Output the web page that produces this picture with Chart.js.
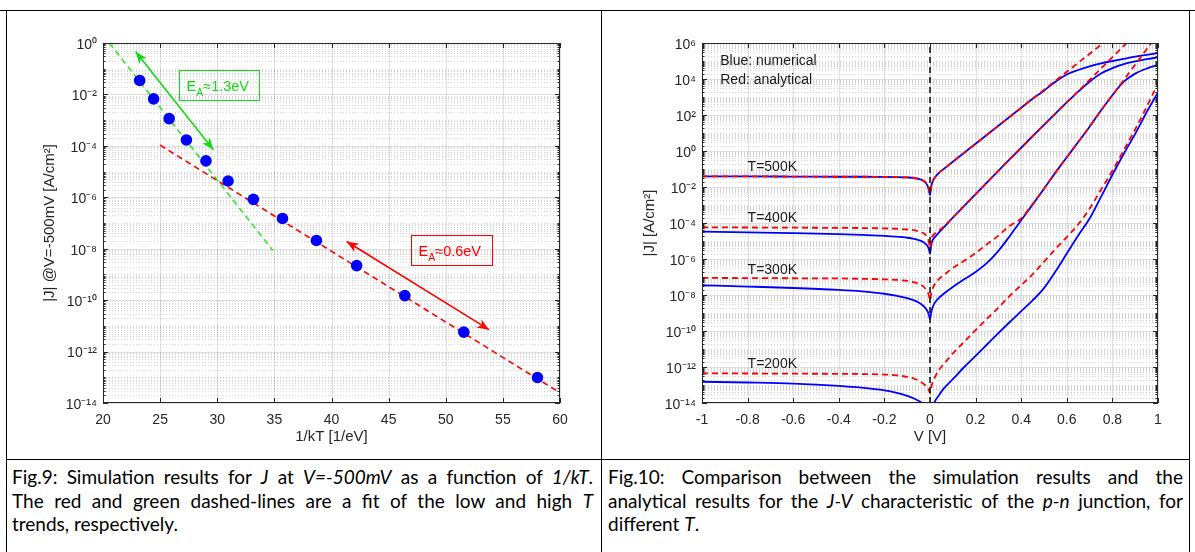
<!DOCTYPE html>
<html>
<head>
<meta charset="utf-8">
<script src="https://cdn.jsdelivr.net/npm/chart.js@4.4.1/dist/chart.umd.min.js"></script>
<style>
  html, body { margin: 0; padding: 0; background: #fff; }
  #page { position: relative; width: 1195px; height: 552px; overflow: hidden; background: #fff; }
  #fig9 { position: absolute; left: 0; top: 0; }
  #fig10 { position: absolute; left: 600px; top: 0; }
  .rule { position: absolute; background: #000; z-index: 5; }
  .cap { position: absolute; top: 465px; font-family: Lato, "Liberation Sans", sans-serif; font-size: 19px; line-height: 23.5px; color: #000; }
  .cap div { text-align: justify; text-align-last: justify; white-space: nowrap; }
  .cap div.last { text-align: left; text-align-last: left; }
</style>
</head>
<body>
<div id="page">
  <canvas id="fig9" width="600" height="459"></canvas>
  <canvas id="fig10" width="595" height="459"></canvas>

  <div class="rule" style="left:0; top:10px; width:1195px; height:1px;"></div>
  <div class="rule" style="left:6px; top:10px; width:1px; height:542px;"></div>
  <div class="rule" style="left:601px; top:10px; width:1px; height:542px;"></div>
  <div class="rule" style="left:1189px; top:10px; width:1px; height:542px;"></div>
  <div class="rule" style="left:6px; top:459px; width:1184px; height:1px;"></div>

  <div class="cap" style="left:12px; width:581px;">
    <div>Fig.9: Simulation results for <i>J</i> at <i>V=-500mV</i> as a function of <i>1/kT</i>.</div>
    <div>The red and green dashed-lines are a fit of the low and high <i>T</i></div>
    <div class="last">trends, respectively.</div>
  </div>
  <div class="cap" style="left:608px; width:575px;">
    <div>Fig.10: Comparison between the simulation results and the</div>
    <div>analytical results for the <i>J-V</i> characteristic of the <i>p-n</i> junction, for</div>
    <div class="last">different <i>T</i>.</div>
  </div>
</div>

<script>
// ---------- Fig. 9 : |J| at V = -500 mV versus 1/kT ----------
const invKT = [23.21, 24.43, 25.79, 27.30, 29.01, 30.95, 33.16, 35.71, 38.68, 42.20, 46.42, 51.58, 58.03];
const jAtMinus500mV = [3.5e-2, 6.7e-3, 1.15e-3, 1.7e-4, 2.6e-5, 4.3e-6, 8.3e-7, 1.5e-7, 2.1e-8, 2.2e-9, 1.5e-10, 5.7e-12, 9.8e-14];

// dashed Arrhenius fits (end points)
const lowTFitX = [24.99, 59.82];
const lowTFitJ = [1.07e-4, 2.8e-14];
const highTFitX = [20.55, 34.87];
const highTFitJ = [1.0, 8.5e-9];

// activation-energy annotations
const highTArrowX = [22.86, 29.66];
const highTArrowJ = [0.457, 7.1e-5];
const lowTArrowX = [41.33, 53.79];
const lowTArrowJ = [1.9e-8, 7.1e-12];
const highTBoxX = [26.68, 33.66];
const highTBoxJ = [8.6e-2, 5.85e-3];
const lowTBoxX = [47.0, 54.1];
const lowTBoxJ = [3.55e-8, 2.4e-9];
const activationLabels = ['\u22481.3eV', '\u22480.6eV'];

const fig9XTicks = [20, 25, 30, 35, 40, 45, 50, 55, 60];
const fig9YExps = [-14, -12, -10, -8, -6, -4, -2, 0];

// ---------- Fig. 10 : J-V characteristics ----------
const biasV = [-1, -0.8, -0.6, -0.4, -0.3, -0.2, -0.15, -0.1, -0.07, -0.05, -0.03, -0.02, -0.01, -0.005, 0,
               0.005, 0.01, 0.02, 0.04, 0.06, 0.1, 0.15, 0.2, 0.25, 0.3, 0.35, 0.4, 0.45, 0.5, 0.55, 0.6,
               0.65, 0.7, 0.75, 0.8, 0.85, 0.9, 0.95, 1];

// log10 of |J| [A/cm^2]; "num" = numerical, "ana" = analytical
const num500 = [-1.41, -1.41, -1.42, -1.43, -1.43, -1.44, -1.45, -1.47, -1.50, -1.55, -1.65, -1.75, -1.95, -2.15, -2.45,
                -2.00, -1.75, -1.50, -1.20, -1.00, -0.60, -0.10, 0.40, 0.90, 1.40, 1.90, 2.40, 2.90, 3.35, 3.85, 4.25,
                4.50, 4.70, 4.87, 5.00, 5.12, 5.24, 5.34, 5.44];
const ana500 = [-1.41, -1.41, -1.42, -1.43, -1.43, -1.44, -1.45, -1.47, -1.50, -1.55, -1.64, -1.73, -1.92, -2.10, -2.38,
                -1.97, -1.73, -1.49, -1.20, -1.00, -0.60, -0.10, 0.40, 0.90, 1.40, 1.90, 2.40, 2.90, 3.40, 3.90, 4.40,
                4.90, 5.40, 5.90, 6.40, null, null, null, null];
const num400 = [-4.48, -4.52, -4.56, -4.62, -4.66, -4.72, -4.76, -4.82, -4.88, -4.95, -5.05, -5.15, -5.30, -5.45, -5.72,
                -5.25, -5.00, -4.80, -4.52, -4.25, -3.70, -3.05, -2.40, -1.75, -1.10, -0.45, 0.18, 0.82, 1.45, 2.08, 2.70,
                3.30, 3.85, 4.30, 4.60, 4.83, 4.98, 5.10, 5.20];
const ana400 = [-4.24, -4.25, -4.26, -4.27, -4.28, -4.30, -4.32, -4.36, -4.40, -4.46, -4.56, -4.65, -4.85, -5.05, -5.40,
                -4.95, -4.75, -4.60, -4.42, -4.20, -3.70, -3.05, -2.40, -1.75, -1.10, -0.45, 0.18, 0.82, 1.45, 2.08, 2.70,
                3.32, 3.95, 4.58, 5.21, 5.84, 6.47, null, null];
const num300 = [-7.46, -7.53, -7.61, -7.72, -7.80, -7.93, -8.03, -8.18, -8.30, -8.42, -8.60, -8.73, -8.92, -9.10, -9.35,
                -9.00, -8.75, -8.45, -8.15, -7.93, -7.55, -7.13, -6.72, -6.22, -5.55, -4.72, -3.85, -2.98, -2.10, -1.20, -0.35,
                0.50, 1.35, 2.25, 3.10, 3.85, 4.30, 4.58, 4.78];
const ana300 = [-7.05, -7.06, -7.07, -7.08, -7.10, -7.13, -7.16, -7.22, -7.30, -7.38, -7.52, -7.65, -7.85, -8.02, -8.30,
                -7.95, -7.70, -7.42, -7.10, -6.90, -6.50, -6.10, -5.67, -5.18, -4.70, -4.15, -3.75, -2.95, -2.10, -1.20, -0.35,
                0.50, 1.35, 2.25, 3.10, 3.95, 4.80, 5.65, 6.50];
const num200 = [-12.82, -12.86, -12.92, -13.05, -13.15, -13.30, -13.42, -13.60, -13.75, -13.88, -14.05, -14.20, -14.50, null, null,
                null, -14.35, -13.95, -13.55, -13.20, -12.68, -12.00, -11.38, -10.75, -10.12, -9.50, -8.90, -8.30, -7.62, -6.70, -5.70,
                -4.70, -3.75, -2.55, -1.32, -0.15, 0.95, 2.15, 3.25];
const ana200 = [-12.35, -12.36, -12.37, -12.38, -12.39, -12.42, -12.46, -12.55, -12.65, -12.75, -12.92, -13.02, -13.18, -13.28, -13.45,
                -13.15, -12.90, -12.60, -12.15, -11.85, -11.25, -10.60, -9.95, -9.32, -8.70, -8.05, -7.45, -6.85, -6.15, -5.45, -4.78,
                -4.08, -3.20, -2.15, -1.10, 0.05, 1.20, 2.45, 3.75];

const tempLabels = ['T=500K', 'T=400K', 'T=300K', 'T=200K'];
const tempLabelV = -0.80;
const tempLabelJ = [0.135, 1.95e-4, 2.4e-7, 1.5e-12];
const keyLines = ['Blue: numerical', 'Red: analytical'];
const keyV = -0.92;
const keyJ = [9.8e4, 9.1e3];

const fig10XTicks = [-1, -0.8, -0.6, -0.4, -0.2, 0, 0.2, 0.4, 0.6, 0.8, 1];
const fig10XLabels = ['-1', '-0.8', '-0.6', '-0.4', '-0.2', '0', '0.2', '0.4', '0.6', '0.8', '1'];
const fig10YExps = [-14, -12, -10, -8, -6, -4, -2, 0, 2, 4, 6];

// ---------- shared styling ----------
const FONT = '"Liberation Sans", Arial, Helvetica, sans-serif';
const AXIS = '#262626';
const BLUE = '#0000ff';
const RED = '#ff0000';
const GREEN = '#14d814';

Chart.defaults.font.family = FONT;
Chart.defaults.color = AXIS;

const SUP = {'-': '\u207b', '0': '\u2070', '1': '\u00b9', '2': '\u00b2', '3': '\u00b3', '4': '\u2074',
             '5': '\u2075', '6': '\u2076', '7': '\u2077', '8': '\u2078', '9': '\u2079'};
const powerLabel = e => '10' + String(e).split('').map(c => SUP[c]).join('');

// Boxed axes with inward ticks, solid major grid and dotted minor grid (log y axis)
function boxedAxes(cfg) {
  return {
    id: 'boxedAxes',
    beforeDatasetsDraw(chart) {
      const {ctx, chartArea: a, scales: {x: xs, y: ys}} = chart;
      ctx.save();
      ctx.lineWidth = 1;
      ctx.setLineDash([1, 2]);
      ctx.strokeStyle = 'rgba(38,38,38,0.2)';
      ctx.beginPath();
      for (let e = cfg.yMinExp; e < cfg.yMaxExp; e++) {
        for (let m = 1; m <= 9; m++) {
          if (m === 1 && cfg.yMajor.includes(e)) continue;
          const p = Math.round(ys.getPixelForValue(m * Math.pow(10, e))) + 0.5;
          ctx.moveTo(a.left, p); ctx.lineTo(a.right, p);
        }
      }
      ctx.stroke();
      ctx.setLineDash([]);
      ctx.strokeStyle = 'rgba(38,38,38,0.15)';
      ctx.beginPath();
      for (const e of cfg.yMajor) {
        const p = Math.round(ys.getPixelForValue(Math.pow(10, e))) + 0.5;
        ctx.moveTo(a.left, p); ctx.lineTo(a.right, p);
      }
      for (const v of cfg.xMajor) {
        const p = Math.round(xs.getPixelForValue(v)) + 0.5;
        ctx.moveTo(p, a.top); ctx.lineTo(p, a.bottom);
      }
      ctx.stroke();
      ctx.restore();
    },
    afterDatasetsDraw(chart) {
      const {ctx, chartArea: a, scales: {x: xs, y: ys}} = chart;
      ctx.save();
      ctx.lineWidth = 1;
      ctx.strokeStyle = AXIS;
      ctx.beginPath();
      for (const v of cfg.xMajor) {
        const p = Math.round(xs.getPixelForValue(v)) + 0.5;
        ctx.moveTo(p, a.bottom); ctx.lineTo(p, a.bottom - 5);
        ctx.moveTo(p, a.top); ctx.lineTo(p, a.top + 5);
      }
      for (let e = cfg.yMinExp; e <= cfg.yMaxExp; e++) {
        for (let m = 1; m <= 9; m++) {
          if (e === cfg.yMaxExp && m > 1) break;
          const p = Math.round(ys.getPixelForValue(m * Math.pow(10, e))) + 0.5;
          const len = (m === 1 && cfg.yMajor.includes(e)) ? 5 : 2.5;
          ctx.moveTo(a.left, p); ctx.lineTo(a.left + len, p);
          ctx.moveTo(a.right, p); ctx.lineTo(a.right - len, p);
        }
      }
      ctx.stroke();
      ctx.strokeRect(a.left + 0.5, a.top + 0.5, a.right - a.left - 1, a.bottom - a.top - 1);
      ctx.restore();
    }
  };
}

function doubleArrow(ctx, p0, p1, color) {
  ctx.save();
  ctx.strokeStyle = color;
  ctx.fillStyle = color;
  ctx.lineWidth = 1.6;
  ctx.beginPath();
  ctx.moveTo(p0[0], p0[1]);
  ctx.lineTo(p1[0], p1[1]);
  ctx.stroke();
  const head = (tip, from) => {
    const ang = Math.atan2(tip[1] - from[1], tip[0] - from[0]);
    ctx.save();
    ctx.translate(tip[0], tip[1]);
    ctx.rotate(ang);
    ctx.beginPath();
    ctx.moveTo(0, 0);
    ctx.lineTo(-12, -4.8);
    ctx.lineTo(-8.5, 0);
    ctx.lineTo(-12, 4.8);
    ctx.closePath();
    ctx.fill();
    ctx.restore();
  };
  head(p0, p1);
  head(p1, p0);
  ctx.restore();
}

function energyBox(ctx, c0, c1, text, color) {
  const x0 = Math.round(Math.min(c0[0], c1[0])) + 0.5;
  const y0 = Math.round(Math.min(c0[1], c1[1])) + 0.5;
  const w = Math.round(Math.abs(c1[0] - c0[0]));
  const h = Math.round(Math.abs(c1[1] - c0[1]));
  ctx.save();
  ctx.strokeStyle = color;
  ctx.lineWidth = 1;
  ctx.strokeRect(x0, y0, w, h);
  ctx.fillStyle = color;
  ctx.textBaseline = 'alphabetic';
  ctx.textAlign = 'left';
  const cy = y0 + h / 2;
  let x = x0 + 7;
  ctx.font = '14.5px ' + FONT;
  ctx.fillText('E', x, cy + 5);
  x += ctx.measureText('E').width;
  ctx.font = '10.5px ' + FONT;
  ctx.fillText('A', x, cy + 10.3);
  x += ctx.measureText('A').width;
  ctx.font = '14.5px ' + FONT;
  ctx.fillText(text, x, cy + 5);
  ctx.restore();
}

const fig9Notes = {
  id: 'fig9Notes',
  afterDatasetsDraw(chart) {
    const {ctx, scales: {x: xs, y: ys}} = chart;
    const P = (x, y) => [xs.getPixelForValue(x), ys.getPixelForValue(y)];
    doubleArrow(ctx, P(highTArrowX[0], highTArrowJ[0]), P(highTArrowX[1], highTArrowJ[1]), GREEN);
    doubleArrow(ctx, P(lowTArrowX[0], lowTArrowJ[0]), P(lowTArrowX[1], lowTArrowJ[1]), RED);
    energyBox(ctx, P(highTBoxX[0], highTBoxJ[0]), P(highTBoxX[1], highTBoxJ[1]), activationLabels[0], GREEN);
    energyBox(ctx, P(lowTBoxX[0], lowTBoxJ[0]), P(lowTBoxX[1], lowTBoxJ[1]), activationLabels[1], RED);
  }
};

const fig10Notes = {
  id: 'fig10Notes',
  afterDatasetsDraw(chart) {
    const {ctx, scales: {x: xs, y: ys}} = chart;
    ctx.save();
    ctx.fillStyle = '#1a1a1a';
    ctx.font = '14px ' + FONT;
    ctx.textAlign = 'left';
    ctx.textBaseline = 'middle';
    keyLines.forEach((t, i) => ctx.fillText(t, xs.getPixelForValue(keyV), ys.getPixelForValue(keyJ[i])));
    tempLabels.forEach((t, i) => ctx.fillText(t, xs.getPixelForValue(tempLabelV), ys.getPixelForValue(tempLabelJ[i])));
    ctx.restore();
  }
};

const pairs = (xs, ys) => xs.map((x, i) => ({x, y: ys[i]}));
const logPairs = (xs, logs) => xs.map((x, i) => ({x, y: logs[i] === null ? null : Math.pow(10, logs[i])}));

const tickFont = {size: 14, family: FONT};
const titleFont = {size: 15, family: FONT};
const hiddenGrid = {display: false, drawTicks: false, tickLength: 0};

// ---------- Fig. 9 chart ----------
new Chart(document.getElementById('fig9'), {
  type: 'scatter',
  data: {
    datasets: [
      {
        label: 'simulation',
        data: pairs(invKT, jAtMinus500mV),
        pointRadius: 5.8,
        pointHoverRadius: 5.8,
        pointBackgroundColor: BLUE,
        pointBorderColor: BLUE,
        pointBorderWidth: 0,
        showLine: false,
        order: 0
      },
      {
        label: 'low-T fit',
        data: pairs(lowTFitX, lowTFitJ),
        showLine: true,
        borderColor: RED,
        borderWidth: 1.6,
        borderDash: [6, 4],
        pointRadius: 0,
        order: 1
      },
      {
        label: 'high-T fit',
        data: pairs(highTFitX, highTFitJ),
        showLine: true,
        borderColor: '#2ee82e',
        borderWidth: 1.6,
        borderDash: [6, 4],
        pointRadius: 0,
        order: 2
      }
    ]
  },
  options: {
    responsive: false,
    animation: false,
    devicePixelRatio: 1,
    events: [],
    layout: {padding: {left: 36, right: 40, top: 43, bottom: 8}},
    plugins: {legend: {display: false}, tooltip: {enabled: false}},
    scales: {
      x: {
        type: 'linear', min: 20, max: 60,
        afterBuildTicks: s => { s.ticks = fig9XTicks.map(v => ({value: v})); },
        afterFit: s => { s.height = 48; },
        grid: hiddenGrid, border: {display: false},
        ticks: {font: tickFont, color: AXIS, padding: 9, maxRotation: 0, autoSkip: false,
                callback: (v, i) => String(fig9XTicks[i])},
        title: {display: true, text: '1/kT [1/eV]', font: titleFont, color: AXIS, padding: {top: 0, bottom: 5}}
      },
      y: {
        type: 'logarithmic', min: 1e-14, max: 1,
        afterBuildTicks: s => { s.ticks = fig9YExps.map(e => ({value: Math.pow(10, e)})); },
        afterFit: s => { s.width = 67; },
        grid: hiddenGrid, border: {display: false},
        ticks: {font: tickFont, color: AXIS, padding: 6, autoSkip: false, labelOffset: 2,
                callback: (v, i) => powerLabel(fig9YExps[i])},
        title: {display: true, text: '|J| @V=-500mV [A/cm\u00b2]', font: titleFont, color: AXIS, padding: {top: 5, bottom: 0}}
      }
    }
  },
  plugins: [boxedAxes({xMajor: fig9XTicks, yMajor: fig9YExps, yMinExp: -14, yMaxExp: 0}), fig9Notes]
});

// ---------- Fig. 10 chart ----------
const curve = (label, logs, color, dashed) => ({
  label,
  data: logPairs(biasV, logs),
  showLine: true,
  borderColor: color,
  borderWidth: 1.8,
  borderDash: dashed ? [6, 4] : [],
  borderJoinStyle: 'round',
  cubicInterpolationMode: 'monotone',
  pointRadius: 0,
  pointHoverRadius: 0,
  order: dashed ? 1 : 2
});

new Chart(document.getElementById('fig10'), {
  type: 'scatter',
  data: {
    datasets: [
      curve('numerical 500K', num500, BLUE, false),
      curve('numerical 400K', num400, BLUE, false),
      curve('numerical 300K', num300, BLUE, false),
      curve('numerical 200K', num200, BLUE, false),
      curve('analytical 500K', ana500, RED, true),
      curve('analytical 400K', ana400, RED, true),
      curve('analytical 300K', ana300, RED, true),
      curve('analytical 200K', ana200, RED, true),
      {
        label: 'V = 0',
        data: [{x: 0, y: 1e-14}, {x: 0, y: 1e6}],
        showLine: true,
        borderColor: '#111111',
        borderWidth: 1.6,
        borderDash: [6, 4],
        pointRadius: 0,
        order: 0
      }
    ]
  },
  options: {
    responsive: false,
    animation: false,
    devicePixelRatio: 1,
    events: [],
    layout: {padding: {left: 36, right: 37, top: 43, bottom: 8}},
    plugins: {legend: {display: false}, tooltip: {enabled: false}},
    scales: {
      x: {
        type: 'linear', min: -1, max: 1,
        afterBuildTicks: s => { s.ticks = fig10XTicks.map(v => ({value: v})); },
        afterFit: s => { s.height = 48; },
        grid: hiddenGrid, border: {display: false},
        ticks: {font: tickFont, color: AXIS, padding: 9, maxRotation: 0, autoSkip: false,
                callback: (v, i) => fig10XLabels[i]},
        title: {display: true, text: 'V [V]', font: titleFont, color: AXIS, padding: {top: 0, bottom: 5}}
      },
      y: {
        type: 'logarithmic', min: 1e-14, max: 1e6,
        afterBuildTicks: s => { s.ticks = fig10YExps.map(e => ({value: Math.pow(10, e)})); },
        afterFit: s => { s.width = 66; },
        grid: hiddenGrid, border: {display: false},
        ticks: {font: tickFont, color: AXIS, padding: 6, autoSkip: false, labelOffset: 2,
                callback: (v, i) => powerLabel(fig10YExps[i])},
        title: {display: true, text: '|J| [A/cm\u00b2]', font: titleFont, color: AXIS, padding: {top: 5, bottom: 0}}
      }
    }
  },
  plugins: [boxedAxes({xMajor: fig10XTicks, yMajor: fig10YExps, yMinExp: -14, yMaxExp: 6}), fig10Notes]
});
</script>
</body>
</html>
